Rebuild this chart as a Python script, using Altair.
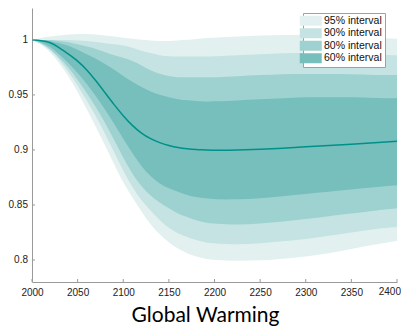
import altair as alt
import pandas as pd

years = [2000, 2010, 2020, 2030, 2040, 2050, 2060, 2070, 2080, 2090, 2100, 2110, 2120, 2130,
         2140, 2150, 2160, 2170, 2180, 2190, 2200, 2225, 2250, 2275, 2300, 2325, 2350, 2375, 2400]

median = [1.0, 0.9995, 0.998, 0.993, 0.987, 0.981, 0.973, 0.963, 0.952, 0.941, 0.931, 0.922, 0.915, 0.910,
          0.9065, 0.904, 0.902, 0.901, 0.9003, 0.900, 0.8995, 0.8998, 0.9005, 0.9015, 0.903, 0.904, 0.905, 0.9065, 0.908]

lo60 = [1.0, 0.998, 0.994, 0.987, 0.979, 0.970, 0.960, 0.949, 0.937, 0.924, 0.910, 0.897, 0.885, 0.876,
        0.869, 0.865, 0.862, 0.859, 0.857, 0.856, 0.855, 0.855, 0.856, 0.858, 0.860, 0.862, 0.864, 0.866, 0.868]
hi60 = [1.0, 1.0, 0.999, 0.997, 0.995, 0.991, 0.987, 0.983, 0.978, 0.973, 0.967, 0.962, 0.957, 0.953,
        0.950, 0.948, 0.946, 0.945, 0.9445, 0.944, 0.944, 0.945, 0.946, 0.947, 0.948, 0.948, 0.948, 0.947, 0.947]

lo80 = [1.0, 0.997, 0.992, 0.984, 0.975, 0.964, 0.952, 0.939, 0.925, 0.909, 0.893, 0.878, 0.867, 0.858,
        0.852, 0.847, 0.842, 0.839, 0.836, 0.834, 0.833, 0.832, 0.833, 0.835, 0.837, 0.840, 0.842, 0.845, 0.847]
hi80 = [1.0, 1.0, 1.0, 0.999, 0.998, 0.996, 0.994, 0.992, 0.989, 0.986, 0.984, 0.981, 0.977, 0.972,
        0.969, 0.967, 0.966, 0.966, 0.966, 0.966, 0.966, 0.967, 0.968, 0.969, 0.969, 0.969, 0.969, 0.968, 0.968]

lo90 = [1.0, 0.997, 0.991, 0.982, 0.971, 0.959, 0.945, 0.931, 0.915, 0.898, 0.881, 0.866, 0.854, 0.845,
        0.836, 0.829, 0.824, 0.821, 0.818, 0.816, 0.815, 0.814, 0.815, 0.817, 0.819, 0.822, 0.825, 0.828, 0.830]
hi90 = [1.0, 1.0, 1.0, 1.0, 1.0, 0.9995, 0.999, 0.998, 0.997, 0.996, 0.995, 0.993, 0.990, 0.988,
        0.986, 0.985, 0.985, 0.985, 0.985, 0.985, 0.985, 0.986, 0.987, 0.988, 0.988, 0.988, 0.987, 0.987, 0.986]

lo95 = [1.0, 0.996, 0.989, 0.979, 0.967, 0.953, 0.937, 0.921, 0.904, 0.887, 0.870, 0.857, 0.844, 0.832,
        0.823, 0.816, 0.810, 0.806, 0.803, 0.801, 0.800, 0.799, 0.7995, 0.801, 0.803, 0.806, 0.810, 0.814, 0.8175]
hi95 = [1.0, 1.002, 1.003, 1.004, 1.005, 1.0055, 1.0055, 1.005, 1.004, 1.003, 1.002, 1.001, 1.0, 0.9995,
        0.999, 0.999, 0.9995, 1.0, 1.001, 1.0015, 1.002, 1.003, 1.004, 1.0045, 1.0045, 1.004, 1.003, 1.002, 1.001]

bands = ["95% interval", "90% interval", "80% interval", "60% interval"]
colors = ["#e2f1f0", "#c4e3e2", "#9ed2d0", "#76bfbc"]

x_ticks = [2000, 2050, 2100, 2150, 2200, 2250, 2300, 2350, 2400]
y_ticks = [0.8, 0.85, 0.9, 0.95, 1.0]
x_last = [2400]

rows = []
for name, lo, hi in zip(bands, [lo95, lo90, lo80, lo60], [hi95, hi90, hi80, hi60]):
    for yr, l, h in zip(years, lo, hi):
        rows.append({"year": yr, "band": name, "lo": l, "hi": h})
df = pd.DataFrame(rows)
med = pd.DataFrame({"year": years, "lo": median})
xt = pd.DataFrame({"year": x_ticks})
yt = pd.DataFrame({"lo": y_ticks})
xl = pd.DataFrame({"year": x_last, "label": [str(v) for v in x_last]})

W, H = 365, 274
AX = "#9a9a9a"
LBL = "#222222"
INTERP = "basis"

xscale = alt.Scale(domain=[2000, 2400], nice=False, zero=False)
yscale = alt.Scale(domain=[0.78, 1.029], nice=False, zero=False)

xaxis = alt.Axis(values=x_ticks, format="d", labelFlush=False, ticks=False, grid=False,
                 labelExpr="datum.value == 2400 ? '' : datum.label",
                 domainColor=AX, labelFont="Liberation Sans", labelFontSize=10, labelColor=LBL,
                 labelPadding=5, title="Global Warming", titleFont="Lato", titleFontSize=21,
                 titleFontWeight="normal", titleColor="#000000", titleX=173, titleY=39,
                 titleAlign="center", titleBaseline="alphabetic")
yaxis = alt.Axis(values=y_ticks, format="~g", ticks=False, grid=False, domainColor=AX,
                 labelFont="Liberation Sans", labelFontSize=10, labelColor=LBL,
                 labelPadding=4.5, title=None)

X = alt.X("year:Q", scale=xscale, axis=xaxis)
Y = alt.Y("lo:Q", scale=yscale, axis=yaxis)

fill = alt.Fill("band:N", scale=alt.Scale(domain=bands, range=colors),
                legend=alt.Legend(orient="none", legendX=271, legendY=5, title=None,
                                  symbolType="M-2.2,-1H2.2V1H-2.2Z", symbolSize=100,
                                  symbolStrokeWidth=0, symbolOpacity=1,
                                  labelFont="Liberation Sans", labelFontSize=10.5,
                                  labelColor="#111111", labelOffset=8, rowPadding=1.5,
                                  padding=2.5, strokeColor="#a0a0a0", fillColor="white"))

layers = []
for name in bands:
    layers.append(
        alt.Chart(df).transform_filter(alt.datum.band == name)
        .mark_area(interpolate=INTERP, opacity=1)
        .encode(x=X, y=Y, y2="hi:Q", fill=fill)
    )

line = alt.Chart(med).mark_line(color="#00908a", strokeWidth=1.5, interpolate=INTERP).encode(x=X, y=Y)

ytick = alt.Chart(yt).mark_rule(color=AX, strokeWidth=1).encode(
    y=Y, x=alt.value(0), x2=alt.value(3))
xtick = alt.Chart(xt).mark_rule(color=AX, strokeWidth=1).encode(
    x=X, y=alt.value(H), y2=alt.value(H - 3))
lastlab = alt.Chart(xl).mark_text(align="right", baseline="top", dx=4, font="Liberation Sans",
                                  fontSize=10, color=LBL).encode(
    x=X, y=alt.value(H + 5), text="label:N")

chart = alt.layer(*layers, line, ytick, xtick, lastlab).properties(
    width=W, height=H, autosize=alt.AutoSizeParams(type="none"),
    padding={"left": 24, "top": 0, "right": 4, "bottom": 45}
).configure_view(stroke=None)

chart.save("out.html", embed_options={"renderer": "svg", "actions": False})
